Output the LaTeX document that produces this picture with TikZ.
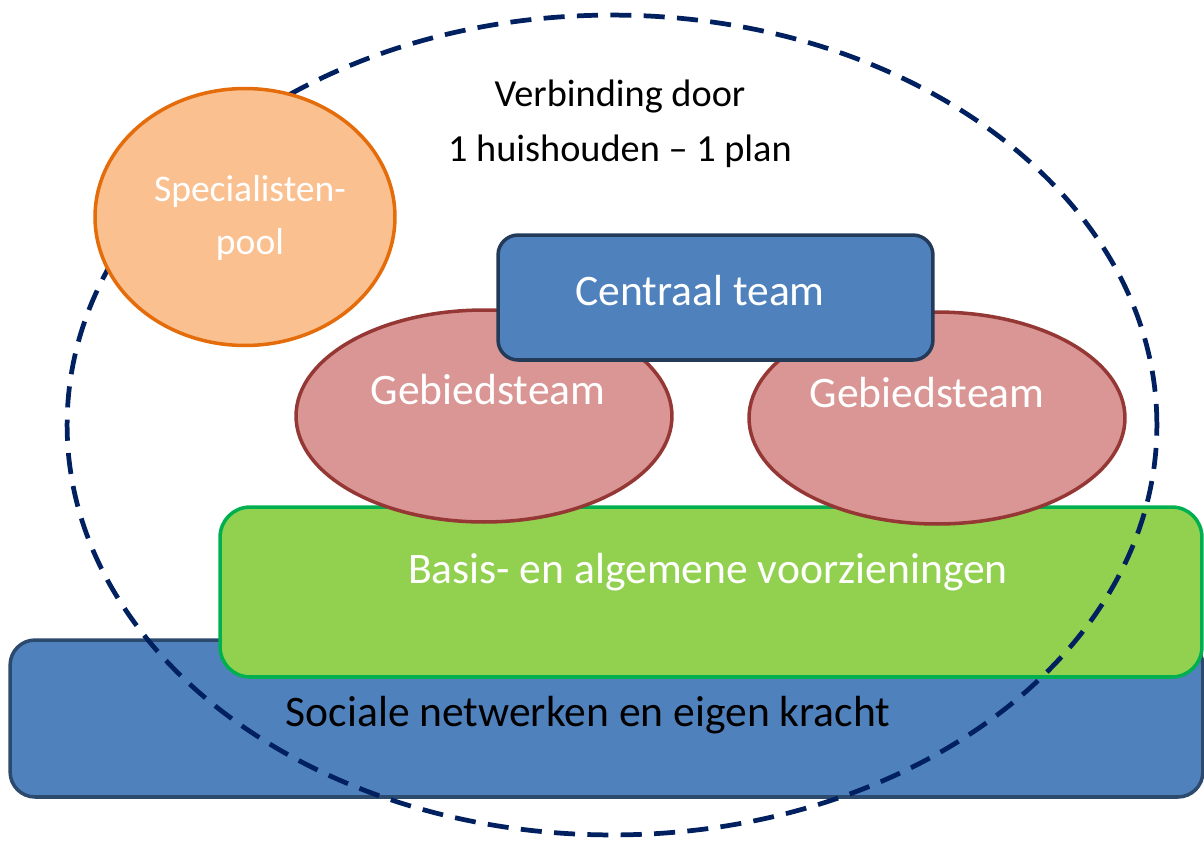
\documentclass[tikz,border=0pt]{standalone}
\usepackage{fontspec}
\setmainfont{Carlito}
\usetikzlibrary{shapes.geometric}
\definecolor{boxblue}{HTML}{4F81BD}
\definecolor{boxblueline}{HTML}{2C4A6E}
\definecolor{boxgreen}{HTML}{92D050}
\definecolor{boxgreenline}{HTML}{00B050}
\definecolor{teampink}{HTML}{D99694}
\definecolor{teampinkline}{HTML}{953735}
\definecolor{poolorange}{HTML}{FAC090}
\definecolor{poolorangeline}{HTML}{E46C0A}
\definecolor{linknavy}{HTML}{002060}
\tikzset{
  layerbox/.style={draw=boxblueline, fill=boxblue, line width=2pt, rounded corners=0.5cm, inner sep=0pt},
  basebox/.style={draw=boxgreenline, fill=boxgreen, line width=2pt, rounded corners=0.6cm, inner sep=0pt},
  teamoval/.style={ellipse, draw=teampinkline, fill=teampink, line width=2pt, inner sep=0pt,
    minimum width=7.52cm, minimum height=4.24cm},
  bigtxt/.style={font=\fontsize{24.8}{30}\selectfont},
  lighttxt/.style={bigtxt, text=white}
}
\begin{document}
\begin{tikzpicture}[x=0.02cm, y=-0.02cm]
  \useasboundingbox (0,0) rectangle (1204,840);
  % lagen onderaan
  \node[layerbox, minimum width=23.86cm, minimum height=3.14cm] (netwerk) at (606.5,718.5) {};
  \node[bigtxt] (netwerktxt) at (588,715) {Sociale netwerken en eigen kracht};
  \node[basebox, minimum width=19.64cm, minimum height=3.4cm] (basis) at (711,592) {};
  \node[lighttxt] (basistxt) at (708,572) {Basis- en algemene voorzieningen};
  % teams
  \node[teamoval] (gebiedA) at (484,416) {};
  \node[lighttxt] (gebiedAtxt) at (488,390) {Gebiedsteam};
  \node[teamoval] (gebiedB) at (937,418) {};
  \node[lighttxt] (gebiedBtxt) at (927,393) {Gebiedsteam};
  \node[layerbox, draw=boxblueline!80!black, rounded corners=0.4cm,
    minimum width=8.7cm, minimum height=2.5cm] (centraal) at (715.5,297.5) {};
  \node[lighttxt] (centraaltxt) at (700,291) {Centraal team};
  % verbinding
  \draw[linknavy, line width=2.7pt, dash pattern=on 12pt off 7pt] (612,425) ellipse [x radius=10.9cm, y radius=8.2cm];
  \node[font=\fontsize{21.8}{31}\selectfont, align=center] (verbinding) at (620,124)
    {Verbinding door\\1 huishouden -- 1 plan};
  \node[ellipse, draw=poolorangeline, fill=poolorange, line width=2pt, inner sep=0pt,
    minimum width=6cm, minimum height=5.14cm] (pool) at (245,217) {};
  \node[font=\fontsize{21.4}{30}\selectfont, text=white, align=center] (pooltxt) at (250,218)
    {Specialisten-\\pool};
\end{tikzpicture}
\end{document}
